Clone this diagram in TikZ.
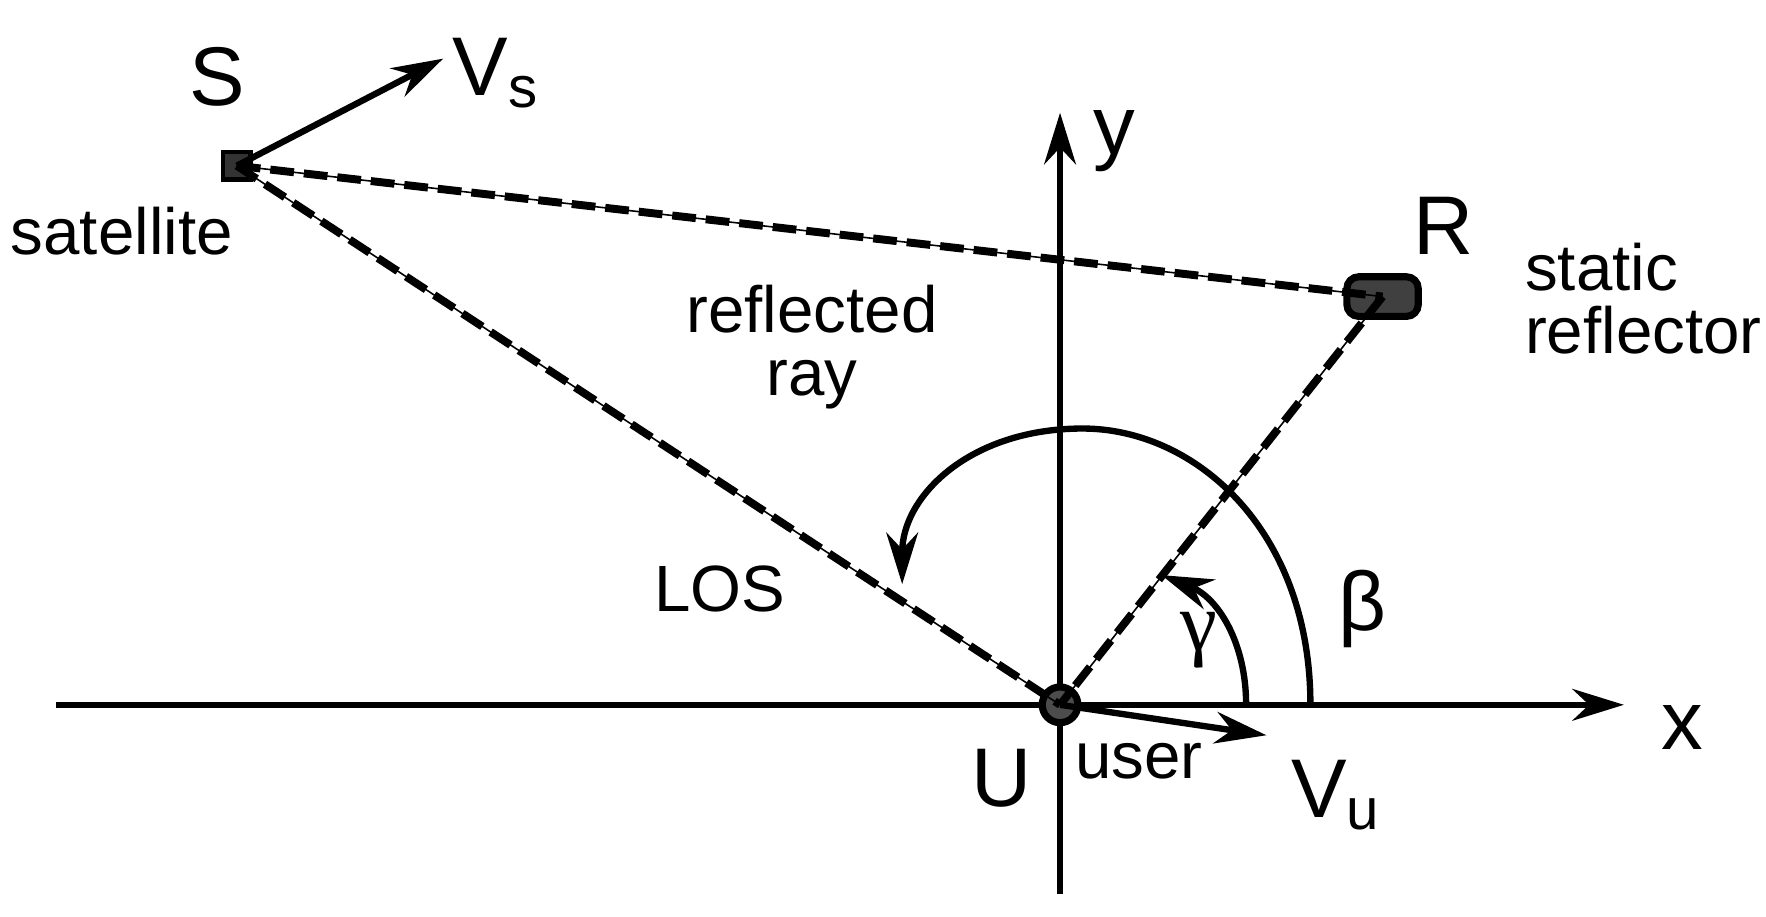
\documentclass[tikz,border=0pt]{standalone}
\usepackage{fontspec}
\setmainfont{Liberation Sans}
\newfontfamily\grk{Liberation Serif}
\usetikzlibrary{arrows.meta}
\begin{document}
\begin{tikzpicture}[x=0.01cm,y=-0.01cm,
  ax/.style={line width=1.6pt,-{Stealth[length=13pt,width=8pt]}},
  ray/.style={line width=2pt,dash pattern=on 6pt off 2.5pt},
  big/.style={font=\fontsize{21}{24}\selectfont},
  small/.style={font=\fontsize{16.5}{19}\selectfont,align=left}]
\useasboundingbox (0,0) rectangle (1566,813);
\coordinate (xs) at (50,625); \coordinate (xe) at (1440,625);
\coordinate (ys) at (940,793); \coordinate (ye) at (940,100);
\draw[ax] (xs) -- (xe);
\draw[ax] (ys) -- (ye);
\node[draw=black,fill=black!75,line width=1.8pt,minimum width=18pt,minimum height=10pt,rounded corners=3pt,inner sep=0] (R) at (1226,263) {};
\node[draw=black,fill=black!80,minimum size=7pt,inner sep=0,line width=1.2pt] (S) at (210,147) {};
\node[circle,draw=black,fill=black!70,line width=1.8pt,minimum size=9pt,inner sep=0] (U) at (940,625) {};
\draw[thin] (S.center) -- (R.center) (S.center) -- (U.center) (R.center) -- (U.center);
\draw[ray] (S.center) -- (R.center);
\draw[ray] (S.center) -- (U.center);
\draw[ray] (R.center) -- (U.center);
\coordinate (vs) at (393,52); \coordinate (vu) at (1123,652);
\draw[ax] (S.center) -- (vs);
\draw[ax] (U.center) -- (vu);
\coordinate (b0) at (1162,625); \coordinate (b1) at (800,518);
\draw[ax] (b0) .. controls (1162,470) and (1060,380) .. (960,380) .. controls (860,380) and (800,440) .. (b1);
\coordinate (g0) at (1105,625); \coordinate (g1) at (1030,510);
\draw[ax] (g0) .. controls (1105,570) and (1080,530) .. (g1);
\node[big] (lS) at (193,68) {S};
\node[big] (lVs) at (440,65) {V\textsubscript{s}};
\node[small] (lsat) at (108,205) {satellite};
\node[big] (ly) at (988,125) {y};
\node[big] (lR) at (1280,200) {R};
\node[small,anchor=west] (lst) at (1340,265) {static\\[-3pt]reflector};
\node[small,align=center] (lref) at (720,308) {reflected\\[-3pt]ray};
\node[small] (lLOS) at (638,522) {LOS};
\node[big] (lg) at (1063,568) {\grk γ};
\node[big] (lb) at (1208,540) {β};
\node[big] (lx) at (1492,645) {x};
\node[big] (lU) at (888,690) {U};
\node[small] (luser) at (1010,675) {user};
\node[big] (lVu) at (1185,705) {V\textsubscript{u}};
\end{tikzpicture}
\end{document}
